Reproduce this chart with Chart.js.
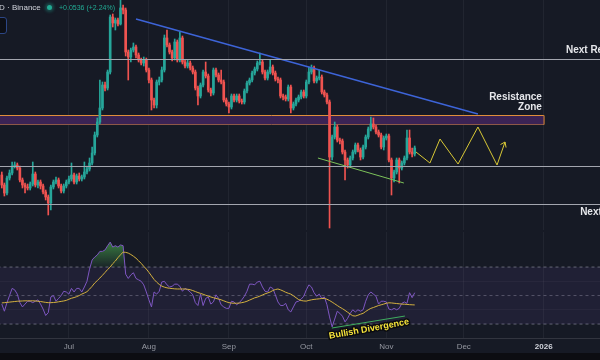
<!DOCTYPE html>
<html>
<head>
<meta charset="utf-8">
<title>XRP daily with RSI</title>
<script src="https://cdn.jsdelivr.net/npm/chart.js@4.4.1/dist/chart.umd.min.js"></script>
<style>
  html, body { margin: 0; padding: 0; background: #161a25; }
  #wrap { position: relative; width: 600px; height: 360px; overflow: hidden; background: #161a25; font-family: "Liberation Sans", Arial, sans-serif; }
  #priceChart { position: absolute; left: 0; top: 0; }
  #rsiChart { position: absolute; left: 0; top: 230px; }
  .title { position: absolute; left: -1px; top: 3px; font-size: 8px; color: #d1d4dc; white-space: nowrap; }
  .dot { position: absolute; left: 47px; top: 5px; width: 5px; height: 5px; border-radius: 50%; background: #22ab94; box-shadow: 0 0 3px 2px rgba(34, 171, 148, 0.35); }
  .change { position: absolute; left: 59px; top: 4px; font-size: 7px; color: #22ab94; white-space: nowrap; }
  .toggle { position: absolute; left: -8px; top: 17px; width: 13px; height: 15px; border: 1px solid #2c4685; border-radius: 3px; background: #0d0f16; }
  .footer { position: absolute; left: 0; top: 353px; width: 600px; height: 7px; background: #0c0d12; }
</style>
</head>
<body>
<div id="wrap">
  <canvas id="priceChart" width="600" height="230"></canvas>
  <canvas id="rsiChart" width="600" height="130"></canvas>
  <div class="title">D · Binance</div>
  <div class="dot"></div>
  <div class="change">+0.0536 (+2.24%)</div>
  <div class="toggle"></div>
  <div class="footer"></div>
</div>
<script>
// days are counted from 2025-06-01, first candle is 2025-06-05
const firstDay = 4;

const opens = [
  1.95, 1.85, 1.77, 1.92, 1.97, 2.04, 2.05, 2.02, 1.90, 1.85,
  1.83, 1.82, 1.86, 1.96, 1.85, 1.88, 1.84, 1.78, 1.73, 1.67,
  1.83, 1.88, 1.90, 1.84, 1.79, 1.84, 1.88, 1.91, 1.95, 1.88,
  1.94, 1.91, 1.93, 1.98, 2.01, 2.07, 2.17, 2.35, 2.48, 2.62,
  2.85, 2.82, 2.98, 3.53, 3.47, 3.50, 3.46, 3.62, 3.60, 3.18,
  3.13, 3.20, 3.23, 3.15, 3.10, 3.07, 3.10, 3.00, 2.90, 2.70,
  2.65, 2.88, 2.90, 3.00, 3.32, 3.25, 3.18, 3.12, 3.28, 3.10,
  3.32, 3.08, 3.04, 3.07, 3.02, 2.98, 2.82, 2.74, 2.85, 2.98,
  2.94, 2.80, 2.77, 3.00, 2.95, 2.90, 2.88, 2.70, 2.66, 2.63,
  2.74, 2.70, 2.74, 2.69, 2.68, 2.79, 2.87, 2.90, 2.97, 3.01,
  3.07, 3.08, 2.98, 2.92, 2.98, 3.03, 2.97, 2.91, 2.90, 2.74,
  2.73, 2.71, 2.83, 2.62, 2.66, 2.70, 2.73, 2.78, 2.74, 2.88,
  2.98, 3.02, 2.89, 2.92, 2.93, 2.78, 2.75, 2.68, 2.13, 2.33,
  2.43, 2.30, 2.29, 2.18, 2.10, 2.05, 2.12, 2.18, 2.25, 2.20,
  2.13, 2.23, 2.33, 2.41, 2.46, 2.43, 2.38, 2.35, 2.23, 2.32,
  2.34, 2.10, 1.92, 1.98, 2.10, 2.02, 2.07, 2.12, 2.32, 2.18, 2.16
];
const highs = [
  1.98, 1.87, 1.94, 2.00, 2.08, 2.08, 2.07, 2.04, 1.92, 1.87,
  1.86, 1.88, 2.08, 1.98, 1.90, 1.90, 1.86, 1.80, 1.75, 1.85,
  1.90, 1.93, 1.92, 1.86, 1.86, 1.90, 1.94, 2.07, 1.97, 1.96,
  1.97, 1.95, 2.08, 2.04, 2.12, 2.23, 2.38, 2.52, 2.90, 2.88,
  2.88, 3.00, 3.55, 3.56, 3.52, 3.52, 3.70, 3.65, 3.62, 3.20,
  3.22, 3.27, 3.25, 3.17, 3.12, 3.13, 3.12, 3.02, 2.92, 2.72,
  2.90, 2.93, 3.03, 3.35, 3.40, 3.27, 3.20, 3.31, 3.30, 3.38,
  3.34, 3.10, 3.10, 3.09, 3.04, 3.00, 2.84, 2.87, 3.00, 3.08,
  2.96, 2.82, 3.02, 3.02, 2.97, 3.00, 2.90, 2.72, 2.68, 2.76,
  2.76, 2.76, 2.76, 2.71, 2.81, 2.89, 2.92, 2.99, 3.03, 3.09,
  3.17, 3.10, 3.00, 3.00, 3.10, 3.05, 2.99, 2.93, 2.92, 2.76,
  2.75, 2.85, 2.85, 2.68, 2.72, 2.75, 2.80, 2.80, 2.90, 3.03,
  3.05, 3.04, 2.94, 3.00, 2.95, 2.80, 2.77, 2.70, 2.35, 2.48,
  2.45, 2.32, 2.31, 2.20, 2.12, 2.14, 2.20, 2.27, 2.27, 2.22,
  2.25, 2.35, 2.43, 2.53, 2.52, 2.45, 2.40, 2.37, 2.34, 2.36,
  2.36, 2.12, 2.00, 2.12, 2.12, 2.09, 2.14, 2.40, 2.40, 2.22, 2.24
];
const lows = [
  1.82, 1.74, 1.75, 1.90, 1.95, 2.02, 2.00, 1.88, 1.82, 1.77,
  1.80, 1.80, 1.84, 1.83, 1.82, 1.81, 1.76, 1.70, 1.55, 1.60,
  1.81, 1.86, 1.82, 1.77, 1.77, 1.82, 1.86, 1.89, 1.86, 1.86,
  1.89, 1.89, 1.91, 1.96, 1.99, 2.05, 2.15, 2.33, 2.46, 2.60,
  2.79, 2.80, 2.96, 3.43, 3.40, 3.44, 3.45, 3.56, 3.14, 2.90,
  3.08, 3.18, 3.12, 3.08, 3.05, 3.04, 2.98, 2.87, 2.60, 2.62,
  2.62, 2.85, 2.88, 2.98, 3.23, 3.16, 3.09, 3.10, 3.08, 3.08,
  3.06, 3.02, 3.02, 3.00, 2.96, 2.80, 2.65, 2.72, 2.83, 2.92,
  2.78, 2.74, 2.75, 2.93, 2.88, 2.86, 2.68, 2.64, 2.57, 2.61,
  2.68, 2.68, 2.67, 2.66, 2.66, 2.77, 2.85, 2.88, 2.95, 2.99,
  3.05, 2.96, 2.90, 2.90, 2.96, 2.95, 2.89, 2.87, 2.72, 2.70,
  2.69, 2.69, 2.57, 2.60, 2.64, 2.68, 2.71, 2.72, 2.72, 2.86,
  2.96, 2.87, 2.87, 2.90, 2.76, 2.73, 2.66, 1.42, 2.10, 2.31,
  2.28, 2.26, 2.16, 1.90, 2.02, 2.03, 2.10, 2.16, 2.18, 2.10,
  2.11, 2.21, 2.31, 2.39, 2.41, 2.36, 2.33, 2.21, 2.20, 2.30,
  2.08, 1.75, 1.88, 1.96, 1.87, 2.00, 2.05, 2.10, 2.16, 2.13, 2.14
];
const closes = [
  1.85, 1.77, 1.92, 1.97, 2.04, 2.05, 2.02, 1.90, 1.85, 1.83,
  1.82, 1.86, 1.96, 1.85, 1.88, 1.84, 1.78, 1.73, 1.67, 1.83,
  1.88, 1.90, 1.84, 1.79, 1.84, 1.88, 1.91, 1.95, 1.88, 1.94,
  1.91, 1.93, 1.98, 2.01, 2.07, 2.17, 2.35, 2.48, 2.62, 2.85,
  2.82, 2.98, 3.53, 3.47, 3.50, 3.46, 3.62, 3.60, 3.18, 3.13,
  3.20, 3.23, 3.15, 3.10, 3.07, 3.10, 3.00, 2.90, 2.70, 2.65,
  2.88, 2.90, 3.00, 3.32, 3.25, 3.18, 3.12, 3.28, 3.10, 3.32,
  3.08, 3.04, 3.07, 3.02, 2.98, 2.82, 2.74, 2.85, 2.98, 2.94,
  2.80, 2.77, 3.00, 2.95, 2.90, 2.88, 2.70, 2.66, 2.63, 2.74,
  2.70, 2.74, 2.69, 2.68, 2.79, 2.87, 2.90, 2.97, 3.01, 3.07,
  3.08, 2.98, 2.92, 2.98, 3.03, 2.97, 2.91, 2.90, 2.74, 2.73,
  2.71, 2.83, 2.62, 2.66, 2.70, 2.73, 2.78, 2.74, 2.88, 2.98,
  3.02, 2.89, 2.92, 2.93, 2.78, 2.75, 2.68, 2.13, 2.33, 2.43,
  2.30, 2.29, 2.18, 2.10, 2.05, 2.12, 2.18, 2.25, 2.20, 2.13,
  2.23, 2.33, 2.41, 2.46, 2.43, 2.38, 2.35, 2.23, 2.32, 2.34,
  2.10, 1.92, 1.98, 2.10, 2.02, 2.07, 2.12, 2.32, 2.18, 2.16, 2.22
];
const rsi = [
  44, 39, 45, 50, 55, 54, 51, 45, 42, 44,
  46, 46, 45, 46, 47, 44, 40.5, 36, 38, 49,
  50, 46, 48, 50, 53, 52.5, 51, 55, 52.5, 55,
  55, 52.5, 56, 60, 68.5, 75, 77, 78.5, 81, 81,
  82, 85, 87.5, 84, 85, 84, 85.5, 85, 65, 62,
  64.5, 66, 62, 61, 60, 57.5, 52.5, 47, 42, 52.5,
  51, 53, 59.5, 60, 57.5, 56, 56.5, 58, 58, 56.5,
  53, 55, 54, 52.5, 50.5, 45, 43, 51, 43, 48,
  49, 44, 45.5, 50.5, 48, 43.5, 42, 41, 41, 46,
  45.5, 43.5, 45, 47, 49.5, 53, 58, 58, 57.5, 59.5,
  60, 56, 53, 52.5, 56, 55, 50.5, 45.5, 43, 43,
  44.5, 40, 38.5, 42, 45.5, 46, 47.5, 49.5, 54, 57.5,
  56, 52, 49.5, 51, 48, 49, 43.5, 35, 28, 33.5,
  39, 37.5, 35.5, 31.5, 34, 37.5, 40, 38.5, 40, 39,
  40, 46, 50.5, 52.5, 51, 49.5, 44, 46, 46, 45.5,
  40.5, 40, 41, 40, 41, 44.5, 45.5, 44.5, 52, 48.5, 52
];
const rsiMa = [
  44.8, 45.0, 45.2, 45.4, 45.6, 45.8, 46.0, 46.1, 46.2, 46.3,
  46.3, 46.3, 46.3, 46.2, 46.0, 45.8, 45.5, 45.2, 45.0, 45.0,
  45.1, 45.3, 45.6, 45.9, 46.2, 46.6, 47.4, 48.1, 48.6, 49.2,
  50.0, 51.0, 51.8, 52.7, 54.5, 56.5, 58.8, 60.5, 62.3, 64.2,
  66.2, 68.3, 70.0, 72.4, 74.2, 76.6, 78.6, 80.5, 80.3, 79.8,
  78.8, 77.6, 76.2, 74.4, 72.6, 70.5, 68.6, 66.3, 63.8, 61.3,
  59.4, 57.8, 56.6, 55.9, 55.4, 55.1, 54.9, 54.7, 54.6, 54.6,
  54.6, 54.6, 54.4, 54.1, 53.5, 52.8, 52.1, 51.5, 50.9, 50.2,
  49.6, 49.0, 48.5, 48.0, 47.5, 47.0, 46.3, 45.6, 45.0, 44.7,
  44.6, 44.6, 44.7, 45.0, 45.4, 46.0, 46.8, 47.6, 48.4, 48.9,
  49.6, 50.4, 51.2, 51.8, 52.5, 53.5, 54.2, 54.6, 54.0, 53.2,
  52.3, 51.6, 51.0, 49.8, 48.5, 47.2, 46.5, 46.2, 46.1, 46.6,
  47.0, 47.3, 47.5, 47.7, 47.9, 48.0, 47.4, 46.5, 45.4, 44.2,
  43.0, 41.8, 40.8, 39.6, 38.3, 37.0, 35.8, 35.6, 36.2, 36.9,
  37.5, 38.8, 40.0, 41.0, 41.6, 42.3, 43.0, 43.5, 44.0, 44.6,
  44.9, 44.8, 44.6, 44.4, 44.2, 44.0, 43.9, 43.8, 43.6, 43.5, 43.4
];
const monthTicks = [30, 61, 92, 122, 153, 183, 214];
const monthLabels = ["Jul", "Aug", "Sep", "Oct", "Nov", "Dec", "2026"];

// drawn levels and trend lines, in day / price units
const nextResistance = 3.105;
const zoneTop = 2.545;
const zoneBottom = 2.455;
const zoneEnd = 214;
const supportLevel = 2.035;
const nextSupport = 1.655;
const topTrend = [[56.0, 3.51], [188.5, 2.56]];
const lowTrend = [[126.5, 2.12], [159.8, 1.87]];
const projection = [[164.5, 2.18], [169.9, 2.07], [173.8, 2.31], [180.8, 2.06], [188.5, 2.43], [195.9, 2.05], [199.0, 2.28]];
const arrowHead = [[197.25, 2.255], [199.0, 2.28], [199.4, 2.225]];
const rsiDivergence = [[131.9, 27.2], [160.2, 35.6]];

const xMin = 3.3;
const xMax = 235.8;
const up = "#26a69a";
const down = "#ef5350";

const days = closes.map((_, i) => firstDay + i);
const candleColors = closes.map((c, i) => (c >= opens[i] ? up : down));
const pts = (arr) => arr.map(([x, y]) => ({ x, y }));
const hLine = (y, x0 = 0, x1 = 240) => [{ x: x0, y }, { x: x1, y }];

Chart.defaults.font.family = '"Liberation Sans", Arial, sans-serif';
Chart.defaults.animation = false;
Chart.defaults.events = [];

const labelPlugin = (labels) => ({
  id: "textLabels",
  afterDatasetsDraw(chart) {
    const { ctx, scales } = chart;
    labels.forEach((l) => {
      ctx.save();
      ctx.translate(scales.x.getPixelForValue(l.x), scales.y.getPixelForValue(l.y));
      ctx.rotate(l.angle || 0);
      ctx.font = l.font;
      ctx.textAlign = l.align || "left";
      ctx.textBaseline = "middle";
      if (l.stroke) {
        ctx.lineJoin = "round";
        ctx.lineWidth = 3;
        ctx.strokeStyle = l.stroke;
        ctx.strokeText(l.text, 0, 0);
      }
      ctx.fillStyle = l.color;
      ctx.fillText(l.text, 0, 0);
      ctx.restore();
    });
  },
});

const monthAxis = (showLabels) => ({
  type: "linear",
  min: xMin,
  max: xMax,
  offset: false,
  afterBuildTicks: (s) => { s.ticks = monthTicks.map((v) => ({ value: v })); },
  afterFit: (s) => { s.height = showLabels ? 22 : 0; },
  grid: { color: "rgba(255,255,255,0.05)", drawTicks: false, offset: false },
  border: { display: showLabels, color: "rgba(255,255,255,0.12)" },
  ticks: {
    display: showLabels,
    autoSkip: false,
    maxRotation: 0,
    padding: 4,
    callback: (v) => monthLabels[monthTicks.indexOf(v)],
    color: (c) => (c.tick && c.tick.value === 214 ? "#d1d4dc" : "#9598a1"),
    font: (c) => ({ size: 8, weight: c.tick && c.tick.value === 214 ? "bold" : "normal" }),
  },
});

const lineSet = (data, color, extra = {}) => ({
  type: "line",
  data,
  borderColor: color,
  borderWidth: 1,
  pointRadius: 0,
  fill: false,
  order: 0,
  ...extra,
});

new Chart(document.getElementById("priceChart"), {
  type: "bar",
  data: {
    datasets: [
      lineSet(hLine(nextResistance), "#a3a6af"),
      lineSet(hLine(supportLevel), "#a3a6af"),
      lineSet(hLine(nextSupport), "#a3a6af"),
      lineSet(pts(topTrend), "#3d64d8", { borderWidth: 1.5 }),
      lineSet(pts(lowTrend), "#7cc35a"),
      lineSet(pts(projection), "#d9c936"),
      lineSet(pts(arrowHead), "#d9c936"),
      {
        data: days.map((d, i) => ({ x: d, y: [opens[i], closes[i]] })),
        backgroundColor: candleColors,
        barThickness: 2,
        minBarLength: 1,
        grouped: false,
        borderWidth: 0,
        order: 1,
      },
      {
        data: days.map((d, i) => ({ x: d, y: [lows[i], highs[i]] })),
        backgroundColor: candleColors,
        barThickness: 1,
        grouped: false,
        borderWidth: 0,
        order: 2,
      },
      lineSet(hLine(zoneTop, -10, zoneEnd), "#e08e3a", { fill: 10, backgroundColor: "#3b2354", order: 3 }),
      lineSet(hLine(zoneBottom, -10, zoneEnd), "#e08e3a", { order: 3 }),
      lineSet([{ x: zoneEnd, y: zoneTop }, { x: zoneEnd, y: zoneBottom }], "#e08e3a", { order: 3 }),
    ],
  },
  options: {
    responsive: false,
    layout: { padding: 0 },
    plugins: { legend: { display: false }, tooltip: { enabled: false } },
    scales: {
      x: monthAxis(false),
      y: { display: false, min: 1.4, max: 3.7 },
    },
  },
  plugins: [
    labelPlugin([
      { text: "Next Resistance", x: 222.6, y: 3.2, font: "bold 10px 'Liberation Sans'", color: "#e6e7eb" },
      { text: "Resistance", x: 213.3, y: 2.73, align: "right", font: "bold 10px 'Liberation Sans'", color: "#e6e7eb" },
      { text: "Zone", x: 213.3, y: 2.63, align: "right", font: "bold 10px 'Liberation Sans'", color: "#e6e7eb" },
      { text: "Next Support", x: 228.1, y: 1.58, font: "bold 10px 'Liberation Sans'", color: "#e6e7eb" },
    ]),
  ],
});

const rsiCanvas = document.getElementById("rsiChart");
const glow = rsiCanvas.getContext("2d").createLinearGradient(0, 10, 0, 37);
glow.addColorStop(0, "rgba(76,175,80,0.7)");
glow.addColorStop(1, "rgba(76,175,80,0.08)");

new Chart(rsiCanvas, {
  type: "line",
  data: {
    datasets: [
      lineSet(days.map((d, i) => ({ x: d, y: rsi[i] })), "#7e57c2", {
        fill: { target: { value: 70 }, above: glow, below: "rgba(0,0,0,0)" },
        order: 1,
      }),
      lineSet(days.map((d, i) => ({ x: d, y: rsiMa[i] })), "#d4b13f", { order: 0 }),
      lineSet(hLine(70), "rgba(150,153,165,0.6)", { borderDash: [3, 3], fill: 4, backgroundColor: "rgba(126,87,194,0.1)", order: 5 }),
      lineSet(hLine(50), "rgba(150,153,165,0.45)", { borderDash: [3, 3], order: 5 }),
      lineSet(hLine(30), "rgba(150,153,165,0.6)", { borderDash: [3, 3], order: 5 }),
      lineSet(pts(rsiDivergence), "#3fae5f", { order: 0 }),
    ],
  },
  options: {
    responsive: false,
    layout: { padding: { top: 2 } },
    plugins: { legend: { display: false }, tooltip: { enabled: false } },
    scales: {
      x: monthAxis(true),
      y: {
        min: 20.2,
        max: 94.6,
        afterBuildTicks: (s) => { s.ticks = [40, 60].map((v) => ({ value: v })); },
        afterFit: (s) => { s.width = 0; },
        grid: { color: "rgba(255,255,255,0.035)", drawTicks: false },
        border: { display: false },
        ticks: { display: false },
      },
    },
  },
  plugins: [
    labelPlugin([
      { text: "Bullish Divergence", x: 146.3, y: 26.5, align: "center", angle: -0.18, font: "bold 9px 'Liberation Sans'", color: "#f5e33a", stroke: "#0b0c10" },
    ]),
  ],
});
</script>
</body>
</html>
